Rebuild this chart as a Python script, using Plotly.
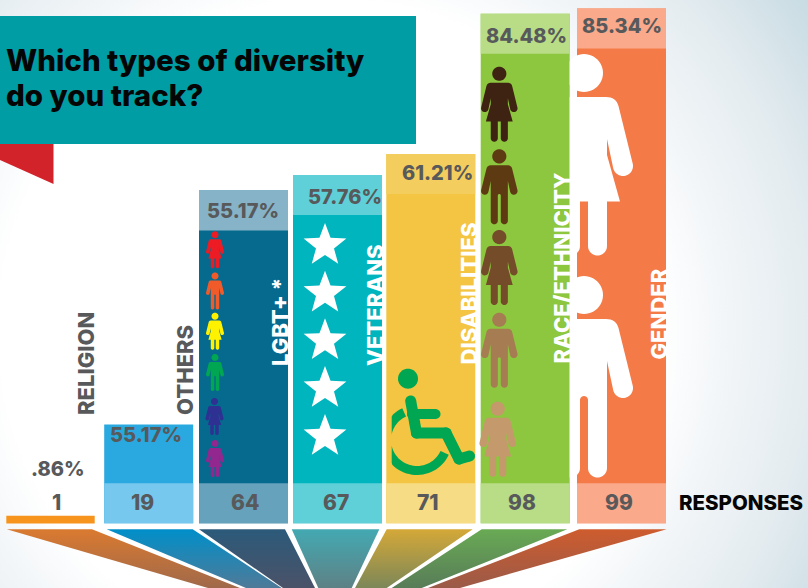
import base64, math
import plotly.graph_objects as go

# ---------- data ----------
categories = ["RELIGION", "OTHERS", "LGBT+ *", "VETERANS", "DISABILITIES", "RACE/ETHNICITY", "GENDER"]
responses = [1, 19, 64, 67, 71, 98, 99]
percent_labels = [".86%", "55.17%", "55.17%", "57.76%", "61.21%", "84.48%", "85.34%"]
title_lines = ["Which types of diversity", "do you track?"]

# ---------- layout constants (pixels of the 808x588 page) ----------
W, H = 808, 588
PX_PER_RESP = 5.2
BASE_PX = 523.3
BAND = 40 / PX_PER_RESP
bar_centers = [50.5, 148.7, 243.5, 337.5, 430.8, 525.2, 621.5]
bar_widths = [86, 89, 89, 89, 89, 89, 89]
main_colors = ["#F7941E", "#29A9E0", "#056A8E", "#00B5BE", "#F3C543", "#8DC63F", "#F47A47"]
top_colors = ["rgba(0,0,0,0)", "rgba(0,0,0,0)", "#86B3C8", "#5FD0D8", "#F3CE5E", "#B9DD87", "#FAA98B"]
low_colors = ["rgba(0,0,0,0)", "#76C8EE", "#66A2BB", "#5FD0D8", "#F6DC85", "#B9DD87", "#FAA98B"]
pct_xy = [(58, 469), (146, 435), (242.5, 211), (344.7, 197), (437.5, 173), (526.5, 36), (621.8, 26)]
resp_x = [56, 142, 245, 336, 428, 522, 619]
cat_xy = [(86, 364), (185, 370), (280, 322), (375, 305), (468, 293.5), (561.5, 268), (658, 314.5)]
cat_colors = ["#58595B", "#58595B", "white", "white", "white", "white", "white"]
GREY = "#58595B"
FONT = "Inter"


def arc(cx, cy, r, a0, a1, n=24):
    return [(cx + r * math.cos(math.radians(a0 + (a1 - a0) * i / n)),
             cy + r * math.sin(math.radians(a0 + (a1 - a0) * i / n))) for i in range(n + 1)]


def to_path(polys):
    out = []
    for p in polys:
        out.append("M" + " L".join(f"{x:.2f},{y:.2f}" for x, y in p) + " Z")
    return " ".join(out)


def person(kind, cx, top, height, min_x=None):
    s = height / 201.5
    half = [(0, 43), (22, 43)]
    for i in range(1, 9):
        t = i / 8
        half.append(((1 - t) ** 2 * 22 + 2 * t * (1 - t) * 32 + t * t * 34.5,
                     (1 - t) ** 2 * 43 + 2 * t * (1 - t) * 43 + t * t * 52))
    half += arc(39, 112, 10, -14, 166)
    half.append((23, 85))
    if kind == "F":
        half += [(23, 101), (36, 147.5), (23, 147.5), (23, 192)]
        half += arc(13.5, 192, 9.5, 0, 180)
        half += [(4, 147.5), (0, 147.5)]
    else:
        half += [(23, 192)]
        half += arc(13.5, 192, 9.5, 0, 180)
        half += [(4, 124)]
        half += arc(0, 124, 4, 0, -90, 6)
    full = half + [(-x, y) for x, y in reversed(half)]
    head = arc(0, 19, 19, 0, 360, 48)
    polys = []
    for p in (head, full):
        q = [(cx + x * s, top + y * s) for x, y in p]
        if min_x is not None:
            q = [(max(x, min_x), y) for x, y in q]
        polys.append(q)
    return to_path(polys)


def star(cx, top, R=22.5):
    cy = top + R
    pts = []
    for i in range(10):
        r = R if i % 2 == 0 else R * 0.42
        a = math.radians(-90 + 36 * i)
        pts.append((cx + r * math.cos(a), cy + r * math.sin(a)))
    return to_path([pts])


def capsule(p, q, w):
    a = math.degrees(math.atan2(q[1] - p[1], q[0] - p[0]))
    return arc(q[0], q[1], w / 2, a - 90, a + 90, 12) + arc(p[0], p[1], w / 2, a + 90, a + 270, 12)


shapes = []


def add_path(path, color):
    shapes.append(dict(type="path", path=path, xref="x", yref="y2", fillcolor=color,
                       line=dict(width=0), layer="above"))


# banner and ribbon
add_path("M0,16 L416,16 L416,144 L0,144 Z", "#009DA5")
add_path("M0,144 L53.5,144 L53.5,184 L0,160 Z", "#D2232A")

# LGBT icons
for kind, top, col, cx in [("F", 231.3, "#ED1C24", 215), ("M", 272.5, "#F15A29", 215), ("F", 312.7, "#FFF200", 215),
                           ("M", 354, "#00A651", 215), ("F", 398, "#2E3192", 214.5), ("F", 440, "#92278F", 215)]:
    add_path(person(kind, cx, top, 37), col)
# race icons
for kind, top, col, cx in [("F", 66.7, "#3E2312", 499.3), ("M", 149.3, "#5E3A12", 499.3), ("F", 230, "#754C29", 499.3),
                           ("M", 312.7, "#A67C52", 499.3), ("F", 401.7, "#C49A6C", 497.7)]:
    add_path(person(kind, cx, top, 75), col)
# gender icons
add_path(person("F", 584, 54, 201.5, min_x=569.7), "white")
add_path(person("M", 584, 276, 201.5, min_x=569.7), "white")
# stars
for top in [223, 270.7, 318.3, 366, 414]:
    add_path(star(325, top), "white")
# wheelchair
GREEN = "#00A651"
add_path(to_path([arc(408, 378.7, 10, 0, 360, 40)]), GREEN)
add_path(to_path([capsule((410.7, 401), (416.5, 433), 11)]), GREEN)
add_path(to_path([capsule((416.5, 433), (446, 433), 11)]), GREEN)
add_path(to_path([capsule((446, 433), (459, 459), 11)]), GREEN)
add_path(to_path([capsule((459, 459), (469.5, 456), 11)]), GREEN)
add_path(to_path([capsule((412, 414), (435.5, 414), 10)]), GREEN)
outer = arc(417, 440, 35, 25, 245, 48)
inner = arc(417, 440, 26, 245, 25, 48)
add_path(to_path([[(max(x, 391.7), y) for x, y in outer + inner]]), GREEN)

# ---------- background ----------
svg = f'''<svg xmlns="http://www.w3.org/2000/svg" width="{W}" height="{H}">
<defs><radialGradient id="g" gradientUnits="userSpaceOnUse" cx="330" cy="330" r="600">
<stop offset="0.55" stop-color="#ffffff"/><stop offset="0.68" stop-color="#f0f4f7"/>
<stop offset="0.8" stop-color="#e4ecf0"/><stop offset="0.97" stop-color="#c8dbe3"/>
</radialGradient></defs><rect width="{W}" height="{H}" fill="url(#g)"/></svg>'''
bg = "data:image/svg+xml;base64," + base64.b64encode(svg.encode()).decode()

# ---------- traces ----------
fig = go.Figure()
main_base = [0.2 if r == 1 else 0 for r in responses]
fig.add_trace(go.Bar(x=bar_centers, y=responses, base=main_base, width=bar_widths,
                     marker=dict(color=main_colors, line=dict(width=[2.4, 0, 0, 0, 0, 0, 0], color="#F7941E")),
                     showlegend=False, hoverinfo="skip"))
fig.add_trace(go.Bar(x=bar_centers, y=[BAND] * 7, base=[r - BAND for r in responses], width=bar_widths,
                     marker=dict(color=top_colors, line=dict(width=0)), showlegend=False, hoverinfo="skip"))
fig.add_trace(go.Bar(x=bar_centers, y=[BAND] * 7, width=bar_widths,
                     marker=dict(color=low_colors, line=dict(width=0)), showlegend=False, hoverinfo="skip"))

funnels = [
    ([6.7, 92, 240, 208], "#DA7A30", "#A0694A"),
    ([106.7, 192.7, 281.7, 246], "#008FC9", "#4F7A98"),
    ([199, 285, 315, 283], "#2C5A7A", "#4A5268"),
    ([291.7, 379.3, 351.7, 318.3], "#43A9B2", "#5E8185"),
    ([386.7, 472.7, 386.7, 355], "#D4A838", "#7C8758"),
    ([481.7, 567.3, 421.7, 391.7], "#69AA54", "#587C58"),
    ([579.3, 666.7, 460, 428], "#CE5C2E", "#9A5A48"),
]
for xs, c0, c1 in funnels:
    fig.add_trace(go.Scatter(
        x=xs + [xs[0]], y=[529.3, 529.3, 588, 588, 529.3], xaxis="x", yaxis="y2",
        mode="lines", line=dict(width=0), fill="toself",
        fillgradient=dict(type="vertical", colorscale=[[0, c1], [1, c0]]),
        showlegend=False, hoverinfo="skip"))

# ---------- texts ----------
ann = []


def text(t, x, y, size, color, angle=0, xanchor="center", align="center"):
    ann.append(dict(text=t, x=x, y=y, xref="x", yref="y2", showarrow=False, textangle=angle,
                    xanchor=xanchor, yanchor="middle", align=align,
                    font=dict(family=FONT, size=size, color=color, weight=800)))


text(title_lines[0], 4, 60, 29.5, "#050505", xanchor="left", align="left")
text(title_lines[1], 4, 95, 29.5, "#050505", xanchor="left", align="left")
for lab, (x, y) in zip(percent_labels, pct_xy):
    text(lab, x, y, 20, GREY)
for r, x in zip(responses, resp_x):
    text(str(r), x, 502.5, 21, GREY)
text("RESPONSES", 677, 502, 20.5, "#050505", xanchor="left")
for c, (x, y), col in zip(categories, cat_xy, cat_colors):
    text(c, x, y, 22, col, angle=-90)

fig.update_layout(
    width=W, height=H, margin=dict(l=0, r=0, t=0, b=0), autosize=False,
    barmode="overlay", paper_bgcolor="white", plot_bgcolor="rgba(0,0,0,0)", showlegend=False,
    xaxis=dict(range=[0, W], visible=False, fixedrange=True),
    yaxis=dict(range=[(BASE_PX - H) / PX_PER_RESP, BASE_PX / PX_PER_RESP], visible=False, fixedrange=True),
    yaxis2=dict(range=[H, 0], overlaying="y", visible=False, fixedrange=True),
    shapes=shapes, annotations=ann,
    images=[dict(source=bg, xref="paper", yref="paper", x=0, y=1, sizex=1, sizey=1,
                 xanchor="left", yanchor="top", sizing="stretch", layer="below")],
)
fig.write_html("out.html", config=dict(displayModeBar=False),
               post_script="document.body.style.margin='0';document.body.style.overflow='hidden';")
